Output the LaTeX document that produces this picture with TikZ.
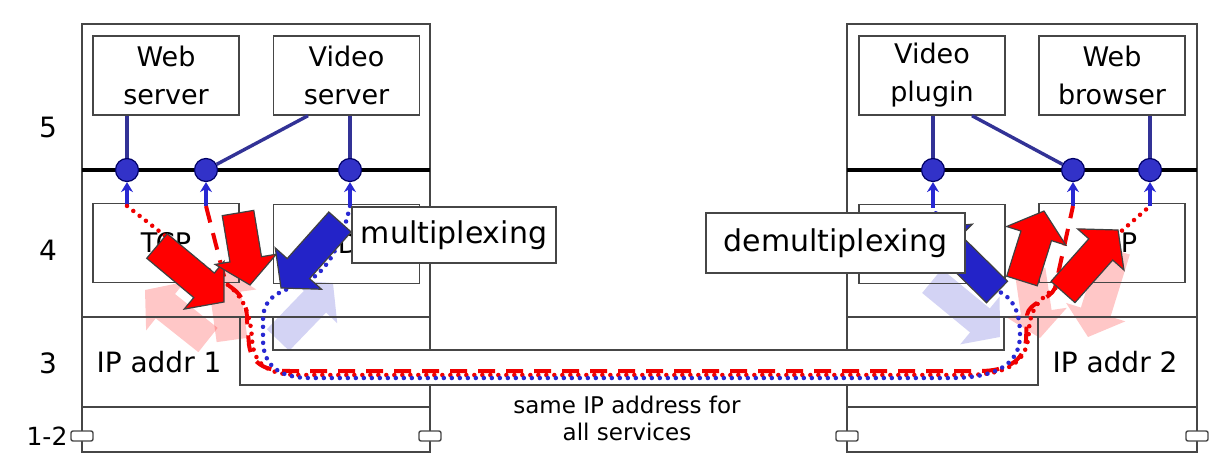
\documentclass[tikz,border=0pt]{standalone}
\usepackage{fontspec}
\setmainfont{DejaVu Sans}
\usetikzlibrary{arrows.meta}
\definecolor{dotblue}{RGB}{50,50,200}
\definecolor{linkblue}{RGB}{50,50,150}
\definecolor{arrblue}{RGB}{35,35,200}
\definecolor{pblue}{RGB}{40,40,210}
\definecolor{gline}{RGB}{70,70,70}
\definecolor{pred}{RGB}{240,0,0}
\newcommand{\blockarr}[6]{%
  \pgfmathsetmacro\baAng{atan2((#3)-(#5),(#4)-(#2))}%
  \pgfmathsetmacro\baLen{veclen((#4)-(#2),(#5)-(#3))}%
  \begin{scope}[shift={(#2,#3)},rotate=\baAng,x=1pt,y=1pt]
    \path[#1] (0,-#6/2) -- (\baLen-26,-#6/2) -- (\baLen-26,-31) -- (\baLen,0)
      -- (\baLen-26,31) -- (\baLen-26,#6/2) -- (0,#6/2) -- cycle;
  \end{scope}}
\begin{document}
\begin{tikzpicture}[x=1pt,y=-1pt,
  hostline/.style={draw=gline,line width=1.4pt},
  box/.style={draw=gline,line width=1.4pt,minimum width=146,minimum height=79,inner sep=0,align=center,font=\fontsize{27}{38}\selectfont},
  lbl/.style={draw=gline,line width=1.4pt,fill=white,inner sep=0,font=\fontsize{30}{36}\selectfont},
  txt/.style={inner sep=0,font=\fontsize{28}{34}\selectfont},
  dotnode/.style={circle,minimum size=23,inner sep=0,fill=dotblue,draw=black!60!blue,line width=1.2pt},
  link/.style={draw=linkblue,line width=3.4pt},
  upar/.style={draw=pblue,line width=3.4pt,-{Stealth[length=10pt,width=12pt]}},
  reddot/.style={draw=pred,line width=4.5pt,line cap=round,dash pattern=on 0pt off 8pt},
  bluedot/.style={draw=pblue,line width=4.5pt,line cap=round,dash pattern=on 0pt off 8pt},
  reddash/.style={draw=pred,line width=4pt,dash pattern=on 17pt off 11pt},
  solidred/.style={draw=black!75,line width=1.2pt,fill=red},
  solidblue/.style={draw=black!75,line width=1.2pt,fill=arrblue},
  fadered/.style={fill=red,opacity=0.22},
  fadeblue/.style={fill=arrblue,opacity=0.2}]
\fill[white] (0,0) rectangle (1231,473);
\useasboundingbox (0,0) rectangle (1231,473);

% faint (reverse direction) arrows
\blockarr{fadered}{208}{340}{145}{290}{31}
\blockarr{fadered}{232}{340}{222}{268}{31}
\blockarr{fadeblue}{278}{340}{333}{283}{31}
\blockarr{fadeblue}{932}{281}{1000}{337}{31}
\blockarr{fadered}{1030}{270}{1040}{338}{31}
\blockarr{fadered}{1115}{250}{1088}{337}{31}

% hosts
\draw[hostline] (430,350) -- (430,24) -- (82,24) -- (82,452) -- (430,452) -- (430,385);
\draw[hostline] (847,350) -- (847,24) -- (1197,24) -- (1197,452) -- (847,452) -- (847,385);
\draw[hostline] (82,317) -- (430,317) (82,407) -- (430,407) (847,317) -- (1197,317) (847,407) -- (1197,407);
\draw[hostline] (240,317) -- (240,385) -- (1038,385) -- (1038,317);
\draw[hostline] (273,317) -- (273,350) -- (1004,350) -- (1004,317);
\draw[line width=3.8pt] (82,170) -- (430,170) (847,170) -- (1197,170);
\foreach \px in {82,430,847,1197}
  \draw[hostline,fill=white,rounded corners=2pt] (\px-11,431) rectangle (\px+11,441);

% boxes
\node[box] (webs) at (166,75.5) {Web\\server};
\node[box] (vids) at (346.5,75.5) {Video\\server};
\node[box] (tcpL) at (166,243) {TCP};
\node[box] (udpL) at (346.5,244) {UDP};
\node[box] (vplug) at (932,75.5) {Video\\plugin};
\node[box] (brow) at (1112,75.5) {Web\\browser};
\node[box] (udpR) at (932,244) {UDP};
\node[box] (tcpR) at (1112,243) {TCP};

% texts
\node[txt] (l5) at (48,127) {5};
\node[txt] (l4) at (48,250) {4};
\node[txt] (l3) at (48,363) {3};
\node[txt,font=\fontsize{25}{30}\selectfont] (l12) at (47,436) {1-2};
\node[txt] (ip1) at (159,362) {IP addr 1};
\node[txt] (ip2) at (1115,362) {IP addr 2};
\node[txt,font=\fontsize{23}{27}\selectfont,align=center] (same) at (627,418) {same IP address for\\all services};

% sockets
\node[dotnode] (dL1) at (127,170) {};
\node[dotnode] (dL2) at (206,170) {};
\node[dotnode] (dL3) at (350,170) {};
\node[dotnode] (dR1) at (933,170) {};
\node[dotnode] (dR2) at (1073,170) {};
\node[dotnode] (dR3) at (1150,170) {};
\draw[link] (webs.south -| dL1) -- (dL1);
\draw[link] ([xshift=-38.5pt]vids.south) -- (dL2);
\draw[link] (vids.south -| dL3) -- (dL3);
\draw[link] (vplug.south -| dR1) -- (dR1);
\draw[link] ([xshift=40pt]vplug.south) -- (dR2);
\draw[link] (brow.south -| dR3) -- (dR3);

\coordinate (aL1) at (127,206);
\coordinate (aL2) at (206,206);
\coordinate (aL3) at (350,206);
\coordinate (aR1) at (933,208);
\coordinate (aR2) at (1073,206);
\coordinate (aR3) at (1150,206);
\foreach \a/\d in {aL1/dL1,aL2/dL2,aL3/dL3,aR1/dR1,aR2/dR2,aR3/dR3}
  \draw[upar] (\a) -- (\d);

% data paths
\draw[reddot] (aL1) -- (228,285) .. controls (245,298) and (251,318) .. (252,340)
  .. controls (254,366) and (270,375) .. (300,375) -- (965,375)
  .. controls (1012,375) and (1028,360) .. (1029,330)
  .. controls (1030,305) and (1045,295) .. (1060,285) -- (aR3);
\draw[reddash] (aL2) -- (226,284) .. controls (240,292) and (247,302) .. (247,320) -- (249,345)
  .. controls (252,366) and (268,371) .. (290,371) -- (980,371)
  .. controls (1005,371) and (1024,362) .. (1026,340) -- (1027,315)
  .. controls (1029,302) and (1050,300) .. (1055,288) -- (aR2);
\draw[bluedot] (aL3) .. controls (340,250) and (325,275) .. (300,285)
  .. controls (275,292) and (263,300) .. (263,320) -- (263,340)
  .. controls (263,366) and (280,378) .. (310,378) -- (950,378)
  .. controls (995,378) and (1020,365) .. (1020,335)
  .. controls (1020,315) and (1015,300) .. (1000,292)
  .. controls (975,280) and (950,240) .. (aR1);

% solid arrows
\blockarr{solidred}{157}{246}{224}{302}{32}
\blockarr{solidred}{238}{213}{250}{285}{32}
\blockarr{solidblue}{340}{222}{281}{288}{30}
\blockarr{solidblue}{997}{292}{932}{228}{30}
\blockarr{solidred}{1022}{281}{1044}{211}{32}
\blockarr{solidred}{1063}{292}{1118}{230}{32}

% labels
\node[lbl,minimum width=204,minimum height=56] (mux) at (454,235) {multiplexing};
\node[lbl,minimum width=259,minimum height=60] (demux) at (835.5,243) {demultiplexing};
\end{tikzpicture}
\end{document}
